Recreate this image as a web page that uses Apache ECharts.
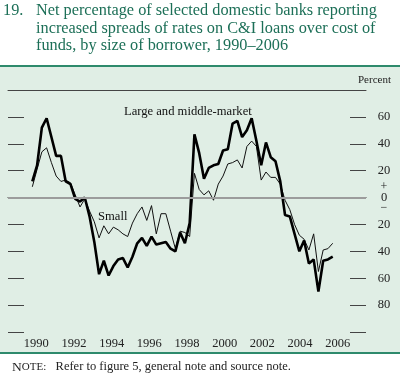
<!DOCTYPE html>
<html>
<head>
<meta charset="utf-8">
<script src="https://cdn.jsdelivr.net/npm/echarts@6/dist/echarts.min.js"></script>
<style>
  html, body { margin: 0; padding: 0; background: #fff; }
  #chart { width: 400px; height: 375px; }
</style>
</head>
<body>
<div id="chart"></div>
<script>
// survey quarters, 1990Q2 - 2006Q1
var quarters = [
  '1990Q2','1990Q3','1990Q4',
  '1991Q1','1991Q2','1991Q3','1991Q4','1992Q1','1992Q2','1992Q3','1992Q4',
  '1993Q1','1993Q2','1993Q3','1993Q4','1994Q1','1994Q2','1994Q3','1994Q4',
  '1995Q1','1995Q2','1995Q3','1995Q4','1996Q1','1996Q2','1996Q3','1996Q4',
  '1997Q1','1997Q2','1997Q3','1997Q4','1998Q1','1998Q2','1998Q3','1998Q4',
  '1999Q1','1999Q2','1999Q3','1999Q4','2000Q1','2000Q2','2000Q3','2000Q4',
  '2001Q1','2001Q2','2001Q3','2001Q4','2002Q1','2002Q2','2002Q3','2002Q4',
  '2003Q1','2003Q2','2003Q3','2003Q4','2004Q1','2004Q2','2004Q3','2004Q4',
  '2005Q1','2005Q2','2005Q3','2005Q4','2006Q1'
];
var largeMid = [
  12, 24, 52, 59, 45, 31, 31, 12, 10, -1,
  -3, 0, -14, -33, -57, -47, -58, -51, -46, -45,
  -52, -44, -34, -30, -36, -29, -35, -34, -33, -38,
  -40, -26, -34, -19, 47, 33, 14, 22, 24, 25,
  35, 36, 55, 57, 45, 50, 59, 42, 24, 41,
  30, 27, 12, -13, -14, -27, -40, -32, -49, -46,
  -70, -47, -46, -44
];
var small = [
  8, 21, 34, 37, 26, 16, 12, 13, 11, 2,
  -7, -1, -10, -18, -30, -21, -27, -22, -24, -27,
  -29, -19, -12, -7, -17, -6, -27, -12, -12, -25,
  -38, -25, -26, -29, 18, 6, 2, 5, -2, 10,
  16, 25, 26, 28, 22, 38, 42, 38, 13, 19,
  15, 15, 10, -2, -9, -20, -28, -31, -39, -27,
  -55, -39, -38, -34
];
var years = ['1989','1990','1991','1992','1993','1994','1995','1996','1997',
  '1998','1999','2000','2001','2002','2003','2004','2005','2006','2007'];

var serif = '"Liberation Serif", "DejaVu Serif", serif';
var teal = '#1c6f57';

function qTime(q) {
  return +q.slice(0, 4) + (+q.slice(5) - 1) / 4 + 0.125;
}
function pairs(vals) {
  return quarters.map(function (q, i) { return [qTime(q), vals[i]]; });
}

var myChart = echarts.init(document.getElementById('chart'));
var option = {
  animation: false,
  grid: { left: 8, right: 34, top: 90, bottom: 43 },
  graphic: [
    { type: 'rect', z: -10, shape: { x: 0, y: 67, width: 400, height: 286 }, style: { fill: '#e0eee5' } },
    { type: 'line', z: -5, shape: { x1: 0, y1: 66, x2: 400, y2: 66 }, style: { stroke: '#2e8a6c', lineWidth: 2 } },
    { type: 'line', z: -5, shape: { x1: 0, y1: 353, x2: 400, y2: 353 }, style: { stroke: '#2e8a6c', lineWidth: 2 } },
    { type: 'text', left: 3, top: 3, style: { text: '19.', font: '16.3px ' + serif, fill: teal } },
    { type: 'text', left: 36, top: 3, style: { text: 'Net percentage of selected domestic banks reporting', font: '16.3px ' + serif, fill: teal } },
    { type: 'text', left: 36, top: 21, style: { text: 'increased spreads of rates on C&I loans over cost of', font: '16.3px ' + serif, fill: teal } },
    { type: 'text', left: 36, top: 38, style: { text: 'funds, by size of borrower, 1990\u20132006', font: '16.3px ' + serif, fill: teal } },
    { type: 'text', left: 358, top: 75, style: { text: 'Percent', font: '11px ' + serif, fill: '#222' } },
    { type: 'text', left: 124, top: 105, style: { text: 'Large and middle-market', font: '12.6px ' + serif, fill: '#111' } },
    { type: 'text', left: 98, top: 210, style: { text: 'Small', font: '12.6px ' + serif, fill: '#111' } },
    { type: 'text', left: 12, top: 360, style: {
        text: '{a|N}{b|OTE:}   Refer to figure 5, general note and source note.',
        font: '12.5px ' + serif, fill: '#222',
        rich: { a: { fontSize: 13.5, fontFamily: serif, fill: '#222' }, b: { fontSize: 11, fontFamily: serif, fill: '#222' } }
      } }
  ],
  xAxis: [
    {
      type: 'category', data: years, position: 'bottom', boundaryGap: true,
      axisLine: { lineStyle: { color: '#333', width: 1 } },
      axisTick: { inside: true, length: 10, interval: 0, lineStyle: { color: '#555' } },
      axisLabel: {
        interval: function (i, v) { return +v % 2 === 0; },
        margin: 5, fontFamily: serif, fontSize: 12.5, color: '#222'
      },
      splitLine: { show: false }
    },
    {
      type: 'value', min: 1989.1, max: 2007.87, position: 'top',
      axisLine: { show: true, onZero: false, lineStyle: { color: '#444', width: 1 } },
      axisTick: { show: false }, axisLabel: { show: false }, splitLine: { show: false }
    }
  ],
  yAxis: [
    {
      type: 'value', position: 'right', min: -100, max: 80, interval: 20,
      axisLine: { show: false },
      axisTick: { show: true, inside: true, length: 16, lineStyle: { color: '#444' } },
      splitLine: { show: false },
      axisLabel: {
        margin: 18, align: 'center', fontFamily: serif, fontSize: 12.5, color: '#222',
        formatter: function (v) {
          if (v === 80 || v === -100) return '';
          if (v === 0) return '{s|+}\n{z|0}\n{s|\u2212}';
          return String(Math.abs(v));
        },
        rich: {
          s: { fontSize: 12, lineHeight: 10, fontFamily: serif, color: '#222' },
          z: { fontSize: 12.5, lineHeight: 11, fontFamily: serif, color: '#222' }
        }
      }
    },
    {
      type: 'value', position: 'left', min: -100, max: 80, interval: 20,
      axisLine: { show: false },
      axisTick: { show: true, inside: true, length: 16, lineStyle: { color: '#444' } },
      axisLabel: { show: false }, splitLine: { show: false }
    }
  ],
  series: [
    {
      name: 'Small', type: 'line', xAxisIndex: 1, yAxisIndex: 0,
      data: pairs(small), symbol: 'none', z: 2,
      lineStyle: { color: '#111', width: 1 },
      markLine: {
        silent: true, symbol: 'none', label: { show: false },
        lineStyle: { color: '#9c9c9c', width: 2, type: 'solid' },
        data: [{ yAxis: 0 }]
      }
    },
    {
      name: 'Large and middle-market', type: 'line', xAxisIndex: 1, yAxisIndex: 0,
      data: pairs(largeMid), symbol: 'none', z: 3,
      lineStyle: { color: '#000', width: 2.6 }
    }
  ]
};
myChart.setOption(option);
</script>
</body>
</html>
